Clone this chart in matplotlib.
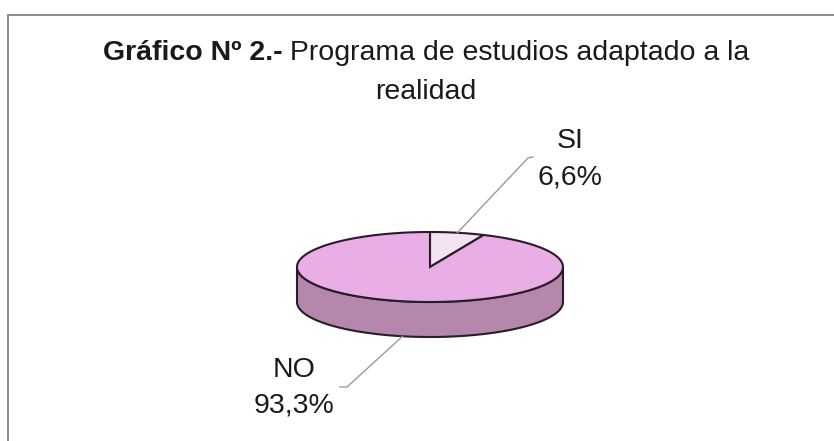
import numpy as np
import matplotlib
matplotlib.use("Agg")
import matplotlib.pyplot as plt
from matplotlib.patches import Polygon

plt.rcParams['font.family'] = ['Liberation Sans', 'DejaVu Sans']

# data
labels = ["SI", "NO"]
values = [6.6, 93.3]
value_labels = ["6,6%", "93,3%"]
title_bold = "Gráfico Nº 2.-"
title_rest = " Programa de estudios adaptado a la"
title_line2 = "realidad"

# colours
top_colors = ["#f4e4f2", "#eaaee6"]
side_color = "#b587ac"
edge_color = "#2b1c2a"

W, H = 834, 441
fig = plt.figure(figsize=(W / 100, H / 100), dpi=100)
ax = fig.add_axes([0, 0, 1, 1])
ax.set_xlim(0, W)
ax.set_ylim(H, 0)
ax.axis("off")

# frame (left + top only visible)
ax.plot([8, 8, W], [H, 15, 15], color="#8a8a8a", lw=1.4, solid_joinstyle="miter")

# 3d pie geometry (pixel coords)
cx, cy, rx, ry, depth = 430, 267, 133, 35, 35


def pt(theta, dy=0.0):
    t = np.radians(theta)
    return cx + rx * np.sin(t), cy - ry * np.cos(t) + dy


fr = np.array(values) / np.sum(values)
bounds = np.concatenate([[0], np.cumsum(fr) * 360])

# side wall (front half only)
th = np.linspace(90, 270, 120)
upper = [pt(t) for t in th]
lower = [pt(t, depth) for t in th[::-1]]
ax.add_patch(Polygon(upper + lower, closed=True, fc=side_color, ec=edge_color, lw=1.5, zorder=2))

# top slices
for i in range(len(values)):
    th = np.linspace(bounds[i], bounds[i + 1], 200)
    poly = [(cx, cy)] + [pt(t) for t in th]
    ax.add_patch(Polygon(poly, closed=True, fc=top_colors[i], ec=edge_color, lw=1.5, zorder=3))

fs = 20.5

# SI label with leader line
mid0 = (bounds[0] + bounds[1]) / 2
x0, y0 = pt(mid0)
ax.plot([x0, 528, 533], [y0, 158, 157], color="#9a9a9a", lw=1.0, zorder=4)
ax.text(570, 148, labels[0], fontsize=fs, ha="center", va="baseline", color="#1a1a1a")
ax.text(570, 184, value_labels[0], fontsize=fs, ha="center", va="baseline", color="#1a1a1a")

# NO label with leader line
mid1 = (bounds[1] + bounds[2]) / 2
x1, y1 = pt(mid1, depth)
ax.plot([x1, 347, 340], [y1, 387, 387], color="#9a9a9a", lw=1.0, zorder=4)
ax.text(294, 377, labels[1], fontsize=fs, ha="center", va="baseline", color="#1a1a1a")
ax.text(294, 413, value_labels[1], fontsize=fs, ha="center", va="baseline", color="#1a1a1a")

# title: bold part + normal part, centred together
t1 = ax.text(0, 60, title_bold, fontsize=fs, fontweight="bold", va="baseline", color="#1a1a1a")
t2 = ax.text(0, 60, title_rest, fontsize=fs, va="baseline", color="#1a1a1a")
r = fig.canvas.get_renderer()
w1 = t1.get_window_extent(r).width
w2 = t2.get_window_extent(r).width
xs = 426 - (w1 + w2) / 2
t1.set_x(xs)
t2.set_x(xs + w1)
ax.text(426, 99, title_line2, fontsize=fs, ha="center", va="baseline", color="#1a1a1a")

fig.savefig("out.png", dpi=100)
